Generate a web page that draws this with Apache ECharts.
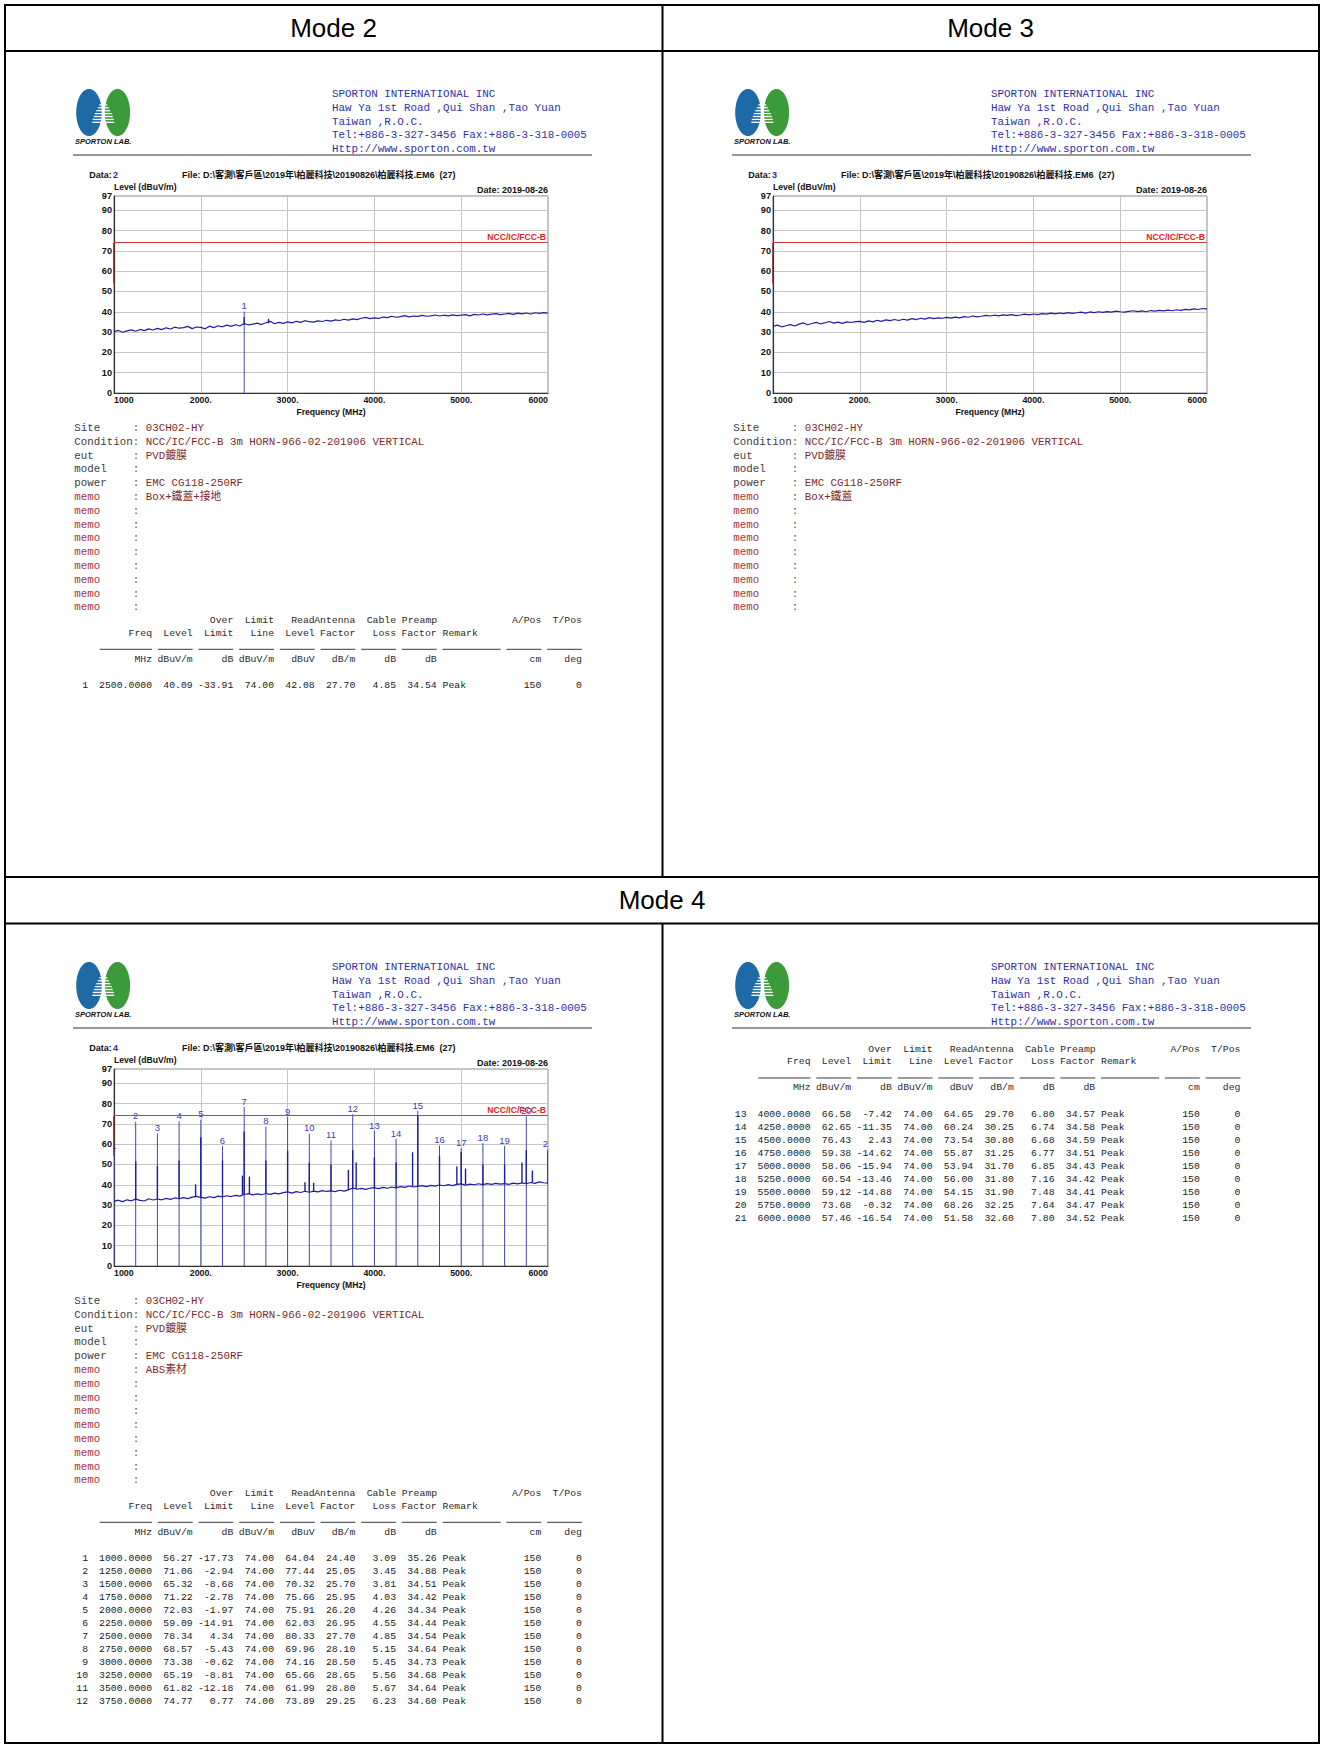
<!DOCTYPE html>
<html><head><meta charset="utf-8">
<script src="https://cdn.jsdelivr.net/npm/echarts@6.0.0/dist/echarts.min.js"></script>
<style>html,body{margin:0;padding:0;background:#fff}#c{width:1322px;height:1748px}</style>
</head><body><div id="c"></div>
<script>
// ================= DATA =================
const sweepFreq = [1000,1050,1100,1150,1200,1250,1300,1350,1400,1450,1500,1550,1600,1650,1700,1750,1800,1850,1900,1950,2000,2050,2100,2150,2200,2250,2300,2350,2400,2450,2500,2550,2600,2650,2700,2750,2800,2850,2900,2950,3000,3050,3100,3150,3200,3250,3300,3350,3400,3450,3500,3550,3600,3650,3700,3750,3800,3850,3900,3950,4000,4050,4100,4150,4200,4250,4300,4350,4400,4450,4500,4550,4600,4650,4700,4750,4800,4850,4900,4950,5000,5050,5100,5150,5200,5250,5300,5350,5400,5450,5500,5550,5600,5650,5700,5750,5800,5850,5900,5950,6000];

const mode2Trace = [30.2,30.8,29.9,30.6,31.1,30.4,31.3,30.7,31.6,31.0,
  31.8,31.2,32.1,31.5,32.4,31.9,32.2,32.8,31.7,32.5,
  32.3,31.6,32.9,32.2,33.1,32.6,33.4,32.8,33.6,33.0,
  34.2,33.5,33.9,34.4,33.7,34.6,35.3,34.1,34.8,34.3,
  35.0,34.5,35.3,34.8,35.6,35.1,34.9,35.5,35.2,35.8,
  35.4,36.0,35.7,36.3,35.9,36.5,36.1,36.8,37.2,36.6,
  37.0,36.7,37.4,37.1,37.8,37.3,37.6,38.1,37.5,37.9,
  37.7,38.2,37.8,38.0,38.4,37.9,38.3,38.0,38.5,38.1,
  38.3,38.6,38.0,38.7,38.4,38.9,38.5,38.8,39.1,38.6,
  38.9,39.2,38.7,39.3,39.0,39.4,38.9,39.5,39.2,39.6,
  39.3];

const mode3Trace = [32.8,33.4,32.6,33.1,33.7,33.0,33.9,34.5,33.6,34.2,
  34.8,34.0,34.6,35.2,34.4,34.9,34.3,35.0,34.7,35.1,
  35.3,34.8,35.5,35.0,35.8,35.3,36.0,35.6,36.2,35.7,
  36.3,35.9,36.6,36.1,36.8,36.4,37.1,36.6,37.0,36.8,
  37.2,36.9,37.4,37.0,37.6,37.3,37.9,37.5,37.8,38.2,
  37.9,38.3,38.0,38.5,38.2,38.6,38.1,38.4,38.8,38.5,
  38.9,38.6,39.1,38.8,39.3,39.0,39.4,39.1,39.6,39.2,
  39.5,39.8,39.3,39.9,39.6,40.0,39.7,40.1,39.8,40.3,
  40.0,39.8,40.2,40.5,40.1,40.4,40.0,40.6,40.3,40.7,
  40.4,40.8,40.5,41.0,40.7,41.2,40.9,41.4,41.1,41.6,
  41.3];

const mode4Trace = [31.8,32.4,31.7,32.6,32.1,32.9,32.3,32.0,33.1,32.5,
  33.0,32.6,33.3,32.8,33.5,33.1,33.7,33.2,33.9,34.3,
  33.8,33.4,34.1,33.7,34.4,34.0,34.6,34.2,34.8,34.4,
  35.2,35.6,35.0,35.5,35.1,35.7,35.3,35.9,35.5,36.1,
  36.5,35.9,36.6,36.2,36.8,36.3,36.9,36.5,37.1,36.7,
  37.0,36.6,37.3,36.9,37.5,38.4,37.8,38.2,37.7,38.3,
  38.6,38.1,38.7,38.3,38.9,38.5,39.1,38.7,39.4,38.9,
  39.2,39.6,39.1,39.7,39.3,39.9,39.5,40.1,39.6,40.2,
  40.4,39.8,40.3,40.0,40.5,40.1,40.6,40.2,40.7,40.3,
  40.6,40.2,40.8,40.4,40.9,40.5,41.1,40.7,41.4,41.0,
  40.8];

// narrow emission spikes on the sweep trace: frequency, floor level, spike top
const mode2SpikeFreq = [2500, 2780];
const mode2SpikeBase = [33.6, 34.3];
const mode2SpikeTop  = [37.3, 36.5];

const mode4SpikeFreq = [1250,1500,1750,1940,2000,2250,2480,2500,2560,2750,3000,3200,3250,3300,3500,3700,3750,3790,4000,4250,4440,4500,4750,4950,5000,5050,5250,5500,5700,5750,5820,6000];
const mode4SpikeBase = [32.6,33.0,33.4,33.9,33.8,34.2,35.0,35.2,35.4,35.6,36.5,36.6,36.7,36.8,37.0,37.4,37.8,37.9,38.6,38.5,39.1,39.2,39.6,40.0,40.4,40.2,40.1,40.6,41.0,40.8,41.0,40.8];
const mode4SpikeTop  = [51.4,49.3,51.9,40.2,63.4,52.0,44.5,66.2,44.0,52.0,56.8,41.2,51.0,41.0,50.0,47.3,57.0,51.0,53.5,51.0,56.0,74.0,54.0,49.0,56.3,48.0,50.0,50.0,51.0,57.0,47.0,57.0];

const limitLevel = 74;
const limitStartLevel = 54;
const limitName = 'NCC/IC/FCC-B';
const xTickValues = [1000,2000,3000,4000,5000,6000];
const xTickLabels = ['1000','2000.','3000.','4000.','5000.','6000'];

// Mode 2 marker table
const mode2Freq = [2500.0];
const mode2Level = [40.09];
const mode2OverLimit = [-33.91];
const mode2LimitLine = [74.00];
const mode2ReadLevel = [42.08];
const mode2AntennaFactor = [27.70];
const mode2CableLoss = [4.85];
const mode2PreampFactor = [34.54];
const mode2Remark = ['Peak'];
const mode2APos = [150];
const mode2TPos = [0];

// Mode 4 marker table
const mode4Freq = [1000,1250,1500,1750,2000,2250,2500,2750,3000,3250,3500,3750,4000,4250,4500,4750,5000,5250,5500,5750,6000];
const mode4Level = [56.27,71.06,65.32,71.22,72.03,59.09,78.34,68.57,73.38,65.19,61.82,74.77,66.58,62.65,76.43,59.38,58.06,60.54,59.12,73.68,57.46];
const mode4OverLimit = [-17.73,-2.94,-8.68,-2.78,-1.97,-14.91,4.34,-5.43,-0.62,-8.81,-12.18,0.77,-7.42,-11.35,2.43,-14.62,-15.94,-13.46,-14.88,-0.32,-16.54];
const mode4LimitLine = [74,74,74,74,74,74,74,74,74,74,74,74,74,74,74,74,74,74,74,74,74];
const mode4ReadLevel = [64.04,77.44,70.32,75.66,75.91,62.03,80.33,69.96,74.16,65.66,61.99,73.89,64.65,60.24,73.54,55.87,53.94,56.00,54.15,68.26,51.58];
const mode4AntennaFactor = [24.40,25.05,25.70,25.95,26.20,26.95,27.70,28.10,28.50,28.65,28.80,29.25,29.70,30.25,30.80,31.25,31.70,31.80,31.90,32.25,32.60];
const mode4CableLoss = [3.09,3.45,3.81,4.03,4.26,4.55,4.85,5.15,5.45,5.56,5.67,6.23,6.80,6.74,6.68,6.77,6.85,7.16,7.48,7.64,7.80];
const mode4PreampFactor = [35.26,34.88,34.51,34.42,34.34,34.44,34.54,34.64,34.73,34.68,34.64,34.60,34.57,34.58,34.59,34.51,34.43,34.42,34.41,34.47,34.52];
const mode4Remark = ['Peak','Peak','Peak','Peak','Peak','Peak','Peak','Peak','Peak','Peak','Peak','Peak','Peak','Peak','Peak','Peak','Peak','Peak','Peak','Peak','Peak'];
const mode4APos = [150,150,150,150,150,150,150,150,150,150,150,150,150,150,150,150,150,150,150,150,150];
const mode4TPos = [0,0,0,0,0,0,0,0,0,0,0,0,0,0,0,0,0,0,0,0,0];

// texts
const modeTitles = ['Mode 2','Mode 3','Mode 4'];
const companyLines = ['SPORTON INTERNATIONAL INC','Haw Ya 1st Road ,Qui Shan ,Tao Yuan','Taiwan ,R.O.C.','Tel:+886-3-327-3456 Fax:+886-3-318-0005','Http://www.sporton.com.tw'];
const fileText = 'File: D:\\客測\\客戶區\\2019年\\柏麗科技\\20190826\\柏麗科技.EM6  (27)';
const dateText = 'Date: 2019-08-26';
const infoKeys = ['Site','Condition','eut','model','power','memo','memo','memo','memo','memo','memo','memo','memo','memo'];
const infoCommon = ['03CH02-HY','NCC/IC/FCC-B 3m HORN-966-02-201906 VERTICAL','PVD鍍膜','','EMC CG118-250RF'];
const mode2Memo = 'Box+鐵蓋+接地';
const mode3Memo = 'Box+鐵蓋';
const mode4Memo = 'ABS素材';

// ================= LAYOUT / STYLE =================
const SANS = '"Liberation Sans", Arial, "Noto Sans CJK TC", sans-serif';
const MONO = '"Liberation Mono", "DejaVu Sans Mono", "Noto Sans CJK TC", monospace';
const chart = echarts.init(document.getElementById('c'), null, {renderer:'svg', width:1322, height:1748});

const g = [];
function txt(x, y, text, font, fill, align, va) {
  return {type:'text', x:x, y:y, silent:true, style:{text:String(text), font:font, fill:fill, align:align||'left', verticalAlign:va||'middle'}};
}
function ln(x1, y1, x2, y2, stroke, w) {
  return {type:'line', silent:true, shape:{x1:x1, y1:y1, x2:x2, y2:y2}, style:{stroke:stroke, lineWidth:w}};
}

// outer table frame
g.push({type:'rect', silent:true, shape:{x:5, y:5, width:1314, height:1738}, style:{fill:'none', stroke:'#000', lineWidth:2}});
g.push(ln(5, 51, 1319, 51, '#000', 2));
g.push(ln(5, 877, 1319, 877, '#000', 2));
g.push(ln(5, 923.5, 1319, 923.5, '#000', 2));
g.push(ln(662.5, 5, 662.5, 877, '#000', 2));
g.push(ln(662.5, 923.5, 662.5, 1743, '#000', 2));
g.push(txt(333.5, 28, modeTitles[0], '26px ' + SANS, '#000', 'center'));
g.push(txt(990.5, 28, modeTitles[1], '26px ' + SANS, '#000', 'center'));
g.push(txt(662, 900, modeTitles[2], '26px ' + SANS, '#000', 'center'));

const panels = [
  {ox:5, oy:51, data:'2', memo:mode2Memo, chart:true},
  {ox:664, oy:51, data:'3', memo:mode3Memo, chart:true},
  {ox:5, oy:924, data:'4', memo:mode4Memo, chart:true},
  {ox:664, oy:924, chart:false}
];

function pageHeader(ox, oy) {
  g.push({type:'ellipse', silent:true, shape:{cx:ox+84, cy:oy+61.5, rx:12.8, ry:23.5}, style:{fill:'#1e6aa6'}});
  g.push({type:'ellipse', silent:true, shape:{cx:ox+112.5, cy:oy+61.5, rx:12.6, ry:23.5}, style:{fill:'#3b9a3a'}});
  const hw = [2.5,4,5.5,7,8.5,9.5,10.5,11];
  for (let k = 0; k < hw.length; k++) {
    const y = oy + 51 + k * 2.9;
    g.push(ln(ox + 98.3 - hw[k], y, ox + 98.3 + hw[k], y, '#fff', 1.3));
  }
  g.push(ln(ox + 98.3, oy + 49, ox + 98.3, oy + 74, '#fff', 1.5));
  g.push(txt(ox + 70, oy + 90, 'SPORTON LAB.', 'italic bold 7.5px ' + SANS, '#111'));
  for (let k = 0; k < companyLines.length; k++) {
    g.push(txt(ox + 327, oy + 43 + k * 13.8, companyLines[k], '10.9px ' + MONO, '#3030a6'));
  }
  g.push(ln(ox + 68, oy + 104, ox + 587, oy + 104, '#333', 1.2));
}

const CW = 5.81;
const TFONT = '9.8px ' + MONO;
function cell(x0, y, text, col, align, color) {
  g.push(txt(x0 + col * CW, y, text, TFONT, color || '#1a1a1a', align || 'right'));
}
function tableHead(x0, y0) {
  const h1 = [['Over',27],['Limit',34],['Read',41],['Antenna',48],['Cable',55],['A/Pos',80],['T/Pos',87]];
  h1.forEach(c => cell(x0, y0, c[0], c[1], 'right', '#2a2a2a'));
  cell(x0, y0, 'Preamp', 56, 'left', '#2a2a2a');
  const h2 = [['Freq',13],['Level',20],['Limit',27],['Line',34],['Level',41],['Factor',48],['Loss',55],['Factor',62]];
  h2.forEach(c => cell(x0, y0 + 12.8, c[0], c[1], 'right', '#2a2a2a'));
  cell(x0, y0 + 12.8, 'Remark', 63, 'left', '#2a2a2a');
  const seg = [[4,13],[14,20],[21,27],[28,34],[35,41],[42,48],[49,55],[56,62],[63,73],[74,80],[81,87]];
  seg.forEach(s => g.push(ln(x0 + s[0] * CW, y0 + 29, x0 + s[1] * CW, y0 + 29, '#222', 0.9)));
  const u = [['MHz',13],['dBuV/m',20],['dB',27],['dBuV/m',34],['dBuV',41],['dB/m',48],['dB',55],['dB',62],['cm',80],['deg',87]];
  u.forEach(c => cell(x0, y0 + 38.7, c[0], c[1], 'right', '#2a2a2a'));
}
function tableRows(x0, y, idx, T) {
  idx.forEach((i, k) => {
    const yy = y + k * 13.03;
    cell(x0, yy, i + 1, 2);
    cell(x0, yy, T.freq[i].toFixed(4), 13);
    cell(x0, yy, T.level[i].toFixed(2), 20);
    cell(x0, yy, T.over[i].toFixed(2), 27);
    cell(x0, yy, T.limit[i].toFixed(2), 34);
    cell(x0, yy, T.read[i].toFixed(2), 41);
    cell(x0, yy, T.ant[i].toFixed(2), 48);
    cell(x0, yy, T.cable[i].toFixed(2), 55);
    cell(x0, yy, T.pre[i].toFixed(2), 62);
    cell(x0, yy, T.remark[i], 63, 'left');
    cell(x0, yy, T.apos[i], 80);
    cell(x0, yy, T.tpos[i], 87);
  });
}
const T2 = {freq:mode2Freq, level:mode2Level, over:mode2OverLimit, limit:mode2LimitLine, read:mode2ReadLevel, ant:mode2AntennaFactor, cable:mode2CableLoss, pre:mode2PreampFactor, remark:mode2Remark, apos:mode2APos, tpos:mode2TPos};
const T4 = {freq:mode4Freq, level:mode4Level, over:mode4OverLimit, limit:mode4LimitLine, read:mode4ReadLevel, ant:mode4AntennaFactor, cable:mode4CableLoss, pre:mode4PreampFactor, remark:mode4Remark, apos:mode4APos, tpos:mode4TPos};

const CFONT = 'bold 8.6px ' + SANS;
const FFONT = 'bold 9px ' + SANS;
panels.forEach(p => {
  pageHeader(p.ox, p.oy);
  if (!p.chart) return;
  g.push(txt(p.ox + 84.3, p.oy + 124, 'Data:', FFONT, '#111'));
  g.push(txt(p.ox + 108, p.oy + 124, p.data, FFONT, '#2a2ab0'));
  g.push(txt(p.ox + 177, p.oy + 124, fileText, FFONT, '#111'));
  g.push(txt(p.ox + 543, p.oy + 138.5, dateText, FFONT, '#111', 'right'));
  const IF = '10.8px ' + MONO, icw = 6.49;
  for (let k = 0; k < infoKeys.length; k++) {
    const y = p.oy + 377 + k * 13.8;
    const isMemo = infoKeys[k] === 'memo';
    g.push(txt(p.ox + 69.3, y, infoKeys[k], IF, isMemo ? '#a6353a' : '#3d3d3d'));
    g.push(txt(p.ox + 69.3 + 9 * icw, y, ':', IF, '#555'));
    let v = k < 5 ? infoCommon[k] : (k === 5 ? p.memo : '');
    if (v) g.push(txt(p.ox + 69.3 + 11 * icw, y, v, IF, '#7a2a2a'));
  }
});
// tables
tableHead(76.5, 620.3);
tableRows(76.5, 620.3 + 65, [0], T2);
tableHead(76.5, 1493.3);
tableRows(76.5, 1493.3 + 65, [0,1,2,3,4,5,6,7,8,9,10,11], T4);
tableHead(735, 1049);
tableRows(735, 1049 + 65, [12,13,14,15,16,17,18,19,20], T4);

// ================= CHARTS =================
const grids = [], xAxes = [], yAxes = [], series = [];
function addChart(gi, left, top, trace, sF, sB, sT, mF, mL) {
  grids.push({left:left, top:top, width:434, height:197, show:true, borderColor:'#8a8a8a', borderWidth:1, backgroundColor:'#fff'});
  xAxes.push({gridIndex:gi, type:'value', min:1000, max:6000, interval:1000,
    axisLine:{show:true, onZero:false, lineStyle:{color:'#333', width:1}}, axisTick:{show:false},
    splitLine:{show:true, lineStyle:{color:'#c6c6c6', width:1}},
    axisLabel:{formatter:v => xTickLabels[xTickValues.indexOf(v)], fontSize:8.8, fontWeight:'bold', fontFamily:SANS, color:'#111', margin:3, alignMinLabel:'left', alignMaxLabel:'right'},
    name:'Frequency (MHz)', nameLocation:'middle', nameGap:15,
    nameTextStyle:{fontSize:8.6, fontWeight:'bold', fontFamily:SANS, color:'#111'}});
  yAxes.push({gridIndex:gi, type:'value', min:0, max:97, interval:10,
    axisLine:{show:true, onZero:false, lineStyle:{color:'#333', width:1.2}}, axisTick:{show:false},
    splitLine:{show:true, lineStyle:{color:'#c6c6c6', width:1}},
    axisLabel:{fontSize:9.2, fontWeight:'bold', fontFamily:SANS, color:'#111', margin:2},
    name:'Level (dBuV/m)', nameLocation:'end', nameGap:5,
    nameTextStyle:{align:'left', fontSize:8.6, fontWeight:'bold', fontFamily:SANS, color:'#111'}});
  series.push({type:'line', xAxisIndex:gi, yAxisIndex:gi, data:[[1000, limitStartLevel],[1000, limitLevel]],
    symbol:'none', silent:true, z:3, lineStyle:{color:'#8c1c1c', width:1.4},
    markLine:{silent:true, symbol:'none', animation:false, data:[{yAxis:limitLevel}],
      lineStyle:{color:'#d43c3c', width:1.2, type:'solid'},
      label:{show:true, position:'insideEndTop', formatter:limitName, color:'#e01e1e', fontWeight:'bold', fontSize:8.6, fontFamily:SANS, distance:[2,1]}}});
  if (mF.length) {
    series.push({type:'custom', xAxisIndex:gi, yAxisIndex:gi, clip:true, z:4, silent:true,
      data: mF.map((f, i) => [f, mL[i], i + 1]),
      renderItem: function (params, api) {
        const p0 = api.coord([api.value(0), 0]);
        const p1 = api.coord([api.value(0), api.value(1)]);
        return {type:'group', children:[
          {type:'line', shape:{x1:p0[0], y1:p0[1], x2:p1[0], y2:p1[1]}, style:{stroke:'#4646b8', lineWidth:1}},
          {type:'text', x:p1[0], y:p1[1] - 1, style:{text:String(api.value(2)), fill:'#3c3cb4', font:'9.5px ' + SANS, align:'center', verticalAlign:'bottom'}}
        ]};
      }});
  }
  series.push({type:'line', xAxisIndex:gi, yAxisIndex:gi, z:5, silent:true, symbol:'none',
    data: sweepFreq.map((f, i) => [f, trace[i]]), lineStyle:{color:'#1f1f9c', width:1.2}});
  if (sF.length) {
    series.push({type:'custom', xAxisIndex:gi, yAxisIndex:gi, z:5, silent:true, clip:true,
      data: sF.map((f, i) => [f, sB[i], sT[i]]),
      renderItem: function (params, api) {
        const a = api.coord([api.value(0), api.value(1)]);
        const b = api.coord([api.value(0), api.value(2)]);
        return {type:'line', shape:{x1:a[0], y1:a[1], x2:b[0], y2:b[1]}, style:{stroke:'#1f1f9c', lineWidth:1.4}};
      }});
  }
}
addChart(0, 114, 196, mode2Trace, mode2SpikeFreq, mode2SpikeBase, mode2SpikeTop, mode2Freq, mode2Level);
addChart(1, 773, 196, mode3Trace, [], [], [], [], []);
addChart(2, 114, 1069, mode4Trace, mode4SpikeFreq, mode4SpikeBase, mode4SpikeTop, mode4Freq, mode4Level);

chart.setOption({
  animation:false,
  backgroundColor:'#fff',
  grid:grids, xAxis:xAxes, yAxis:yAxes, series:series,
  graphic:{elements:g}
});
</script></body></html>
